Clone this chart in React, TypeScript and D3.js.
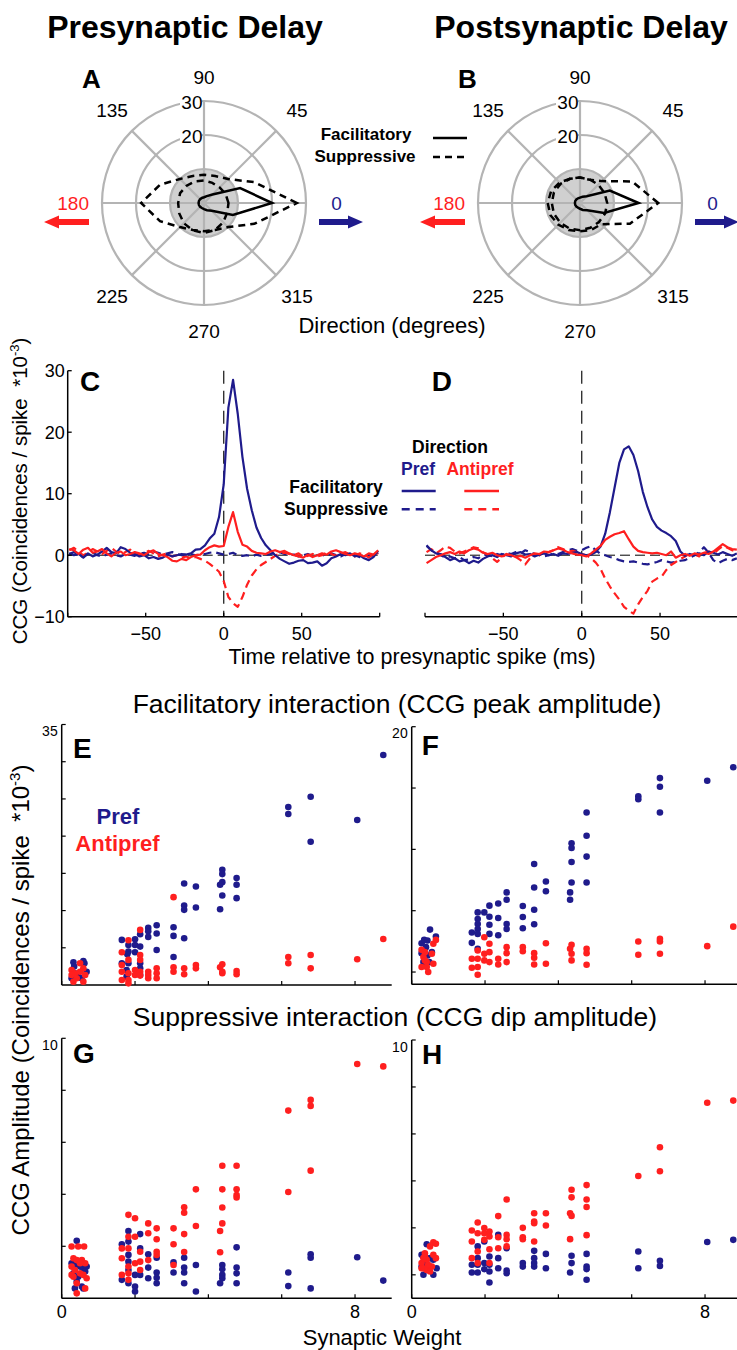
import React from "react";
import * as d3 from "d3";

const BLUE = "#1f1b8c";
const RED = "#ff1f1f";
const GRID = "#b4b4b4";
const FONT = "'Liberation Sans', Arial, Helvetica, sans-serif";

// ---------- Polar panels (A, B) ----------
const DIRS = [0, 22.5, 45, 67.5, 90, 112.5, 135, 157.5, 180, 202.5, 225, 247.5, 270, 292.5, 315, 337.5];
const RINGS = [10, 20, 30];
const SPOKES = [0, 45, 90, 135, 180, 225, 270, 315];
const ANGLE_LABELS = ["90", "45", "135", "225", "315", "270"];

const A_FAC = [20, 11.5, 3.5, 2.2, 1.7, 1.6, 1.6, 1.6, 1.6, 1.6, 1.6, 1.6, 1.8, 2.3, 3.2, 9.2];
const A_SUP_OUTER = [27.3, 16, 10, 8.6, 8.3, 8.6, 10, 14, 18.5, 14, 10, 8.6, 8.3, 8.6, 10, 16];
const A_SUP_INNER = [7.2, 6.9, 6.5, 6.4, 6.6, 6.9, 7.2, 7.6, 7.6, 7.9, 8.4, 8.7, 8.8, 8.6, 8.0, 7.4];

const B_FAC = [17.2, 9.5, 2.8, 2, 1.6, 1.5, 1.5, 1.5, 1.5, 1.5, 1.5, 1.5, 1.7, 2.2, 3.0, 7.7];
const B_SUP_OUTER = [23, 16.6, 9.1, 7.4, 7.5, 7.7, 8.5, 9.2, 9.5, 9.4, 9.0, 8.6, 8.3, 8.6, 8.8, 15.9];
const B_SUP_INNER = [8.0, 7.8, 7.6, 7.5, 7.5, 7.7, 8.0, 8.3, 8.3, 8.3, 8.2, 8.1, 8.0, 7.9, 7.9, 8.0];

// ---------- CCG panels (C, D) ----------
const T = [
  -99, -96, -93, -90, -87, -84, -81, -78, -75, -72,
  -69, -66, -63, -60, -57, -54, -51, -48, -45, -42,
  -39, -36, -33, -30, -27, -24, -21, -18, -15, -12,
  -9, -6, -3, 0, 3, 6, 9, 12, 15, 18,
  21, 24, 27, 30, 33, 36, 39, 42, 45, 48,
  51, 54, 57, 60, 63, 66, 69, 72, 75, 78,
  81, 84, 87, 90, 93, 96, 99,
];
const C_PREF_FAC = [
  0.3, 0, 0.2, -0.4, 0.3, -0.2, 0.1, 0.6, 1.2, 0.5,
  0.3, 1.3, 1.0, 0.4, 0.2, -0.2, 0, -0.5, -0.3, -0.6,
  -0.4, 0.1, -0.2, 0, 0.2, 0.1, 0.3, 0.9, 1.0, 1.6,
  2.7, 3.5, 6.2, 11.5, 24, 28.5, 23, 16, 10.8, 7.3,
  4.5, 2.8, 1.6, 0.8, 0, -0.6, -1.0, -1.4, -1.2, -0.9,
  -0.8, -1.3, -1.2, -1.0, -1.7, -1.3, -0.5, -0.2, 0.2, 0,
  0.3, -0.2, 0, -0.5, -0.8, -0.3, 0.7,
];
const C_ANTI_FAC = [
  1.0, 0.8, 0.2, 0.9, 1.2, 0.4, 0.6, 1.0, 0.3, -0.2,
  0.4, 0.6, 0, 0.2, 0.5, 0.3, 0, 0.5, 0.8, 0.2,
  0, -0.3, -0.9, -1.0, -0.6, -0.8, -0.3, 0, 0.1, 0.8,
  1.3, 1.6, 1.4, 1.5, 4.6, 7.0, 3.8, 1.7, 1.4, 0.7,
  0.4, 0.3, 0.2, 0.6, 0.8, 0.5, 0.7, 0.3, 0, -0.2,
  -0.4, 0.1, -0.3, 0, 0.3, 0.1, 0.6, 0.8, 0.5, 0.2,
  0.0, 0.3, 0.1, -0.2, 0.3, 0.1, 0.8,
];
const C_PREF_SUP = [
  0.2, 0.5, 0, -0.3, 0.2, 0.4, 0, -0.2, 0.1, 0.3,
  0, -0.2, 0.2, 0.1, -0.1, 0.2, 0.4, 0.1, 0.6, 0.4,
  0.1, 0.3, 0.5, 0.2, 0, 0.1, 0.2, 0, 0.1, 0.2,
  0.4, 0.5, 0.3, 0.1, 0.2, 0.4, 0, -0.1, 0, -0.2,
  0.1, -0.1, 0, 0.2, 0.3, 0.5, 0.2, 0, 0.1, -0.2,
  0, 0.2, -0.1, 0, 0.1, -0.2, 0.3, 0, -0.2, 0.2,
  0.3, 0, -0.3, -0.2, 0, -0.1, 0.4,
];
const C_ANTI_SUP = [
  0.8, 1.2, 0.5, 0, 0.4, 1.0, 0.6, 0.2, 0.7, 1.2,
  0.6, 0.2, 0.5, 0.9, 0.3, 0, 0.4, 0.7, 0.3, -0.2,
  0.1, 0.3, -0.2, 0, -0.4, -0.2, -0.5, -0.3, -0.6, -0.9,
  -1.4, -2.0, -2.7, -4.2, -6.8, -7.8, -8.4, -6.8, -4.8, -3.3,
  -2.3, -1.6, -1.1, -0.6, -0.1, 0.3, 0.4, 0.2, 0, 0.3,
  -0.3, -0.1, 0.2, -0.2, 0, 0.4, 0.2, -0.1, 0.3, 0.5,
  0.1, -0.2, 0.3, 0.1, -0.4, 0.2, 0.3,
];
const D_PREF_FAC = [
  1.5, 0.8, 0.3, 0.2, -0.3, -0.8, -0.5, -1.0, -0.8, -1.3,
  -0.9, -1.2, -0.6, -0.2, 0, -0.3, 0.2, 0, -0.2, 0.3,
  0.5, 0.1, 0.2, -0.2, 0.1, 0.3, 0, 0.2, -0.1, 0.3,
  0.2, 0.4, 0.5, 0.2, 0, 0.1, 0.5, 1.4, 3.5, 7,
  11, 15, 17.2, 17.7, 16.3, 13.7, 10.3, 7.8, 5.8, 4.6,
  4.0, 3.6, 3.1, 2.3, 0.6, -0.1, 0.2, 0, 0.3, 0,
  0.6, 0.4, 0.1, 0.5, 0.2, -0.1, 0.3,
];
const D_ANTI_FAC = [
  -1.3, -0.8, -0.3, 0, 0.3, 0.5, 0.2, 0.6, 0.3, 0.8,
  1.1, 0.9, 0.4, 0.2, 0.4, 0, -0.2, 0.1, 0, -0.3,
  -0.1, -0.4, 0, 0.3, 0.2, 0.6, 0.5, 0.8, 1.1, 0.9,
  0.5, 0.3, 0.1, 0, -0.2, 0.3, 0.9, 1.5, 2.5, 3.0,
  3.4, 3.6, 3.9, 2.6, 1.4, 0.7, 0.5, 0.4, 0.3, 0.4,
  0.2, 0, 0.6, -0.4, 0, 0.2, -0.1, 0.3, 0.1, 0.4,
  0.2, 0.6, 1.2, 1.8, 1.3, 1.0, 0.9,
];
const D_PREF_SUP = [
  1.6, 0.8, 0.4, 0, -0.4, -0.2, -0.5, -0.3, -0.8, -0.7,
  -0.3, -0.5, 0, 0.1, -0.2, 0.2, 0, 0.4, 0.2, 0.5,
  0.3, 0.8, 0.5, 0.2, 0, -0.2, 0, 0.3, 0.2, 0.5,
  0.8, 1.0, 0.7, 0.8, 1.2, 1.5, 0.8, 0.2, 0, -0.3,
  -0.5, -0.8, -1.0, -1.1, -1.0, -1.2, -1.4, -1.5, -1.3, -1.1,
  -0.8, -1.0, -1.2, -1.1, -0.9, -0.8, -0.4, 0, 0.5, 1.3,
  0.4, -0.8, -1.3, -0.9, -0.6, -0.8, -0.5,
];
const D_ANTI_SUP = [
  0.5, 1.0, 0.3, 0.8, 1.4, 1.2, 0.6, 0.3, 0.6, 0.9,
  1.3, 1.1, 0.5, 0.1, -0.5, -1.1, -0.4, 0.2, 0, -0.3,
  -0.8, -1.5, -0.5, 0.2, 0, 0.3, 0.5, 0.8, 1.3, 1.0,
  0.6, 0.7, 0.5, 0.2, 0, -0.5, -1.2, -2.2, -3.8, -5.1,
  -6.2, -7.2, -8.4, -9.0, -9.5, -8.0, -6.8, -5.8, -4.3, -3.8,
  -3.5, -2.4, -1.6, -1.1, -0.6, -0.2, 0.3, 0.1, -0.2, 0.4,
  0.6, 0.2, 0.9, 1.5, 1.2, 0.8, 0.6,
];
const CCG_YTICKS = [-10, 0, 10, 20, 30];
const CCG_XTICKS = [-100, -50, 0, 50, 100];
const CCG_XLABELS = [-50, 0, 50];

// ---------- Scatter panels (E-H): [synaptic weight, amplitude] ----------
const E_PREF = [
  [0.32, 3.05], [0.34, 2.47], [0.59, 3.23], [0.62, 2.92], [0.68, 1.79], [0.36, 1.57], [0.54, 0.9], [0.27, 0.9], [0.45, 1.35],
  [1.64, 6.06], [1.82, 5.38], [1.82, 4.49], [1.79, 4.13], [2.0, 6.15], [2.0, 5.38], [2.0, 4.4], [2.14, 6.82], [2.14, 5.16], [1.64, 2.92], [1.82, 2.92], [2.14, 2.92], [2.14, 1.35], [1.77, 1.12], [2.36, 7.67], [2.36, 7.22], [2.36, 6.46], [2.59, 8.03], [2.59, 6.91], [2.59, 4.71], [2.14, 2.24], [1.77, 2.02],
  [3.05, 7.76], [3.05, 6.6], [3.05, 3.77], [3.34, 13.64], [3.34, 10.68], [3.34, 10.1], [3.34, 6.28], [3.66, 13.23], [3.66, 10.41],
  [4.38, 15.48], [4.38, 14.9], [4.38, 13.82], [4.32, 13.46], [4.38, 12.03], [4.32, 10.18], [4.77, 14.36], [4.77, 13.46], [4.77, 11.67],
  [6.18, 23.91], [6.18, 22.97], [6.79, 25.3], [6.79, 19.25],
  [8.06, 22.16], [8.77, 30.91],
];
const E_ANTI = [
  [0.27, 2.02], [0.36, 1.57], [0.5, 2.92], [0.59, 2.24], [0.64, 1.35], [0.41, 0.9], [0.32, 0.45], [0.59, 0.45], [0.5, 1.79], [0.27, 1.35],
  [1.64, 4.4], [1.64, 2.69], [1.64, 1.79], [1.64, 0.67], [1.82, 6.01], [1.82, 3.37], [1.82, 1.57], [1.82, 0.67], [1.82, 0.22], [2.0, 2.02], [2.0, 1.35], [2.14, 7.4], [2.14, 4.04], [2.14, 3.37], [2.14, 1.79], [2.14, 1.26], [2.36, 1.79], [2.36, 0.9], [2.59, 2.24], [2.59, 1.57], [2.59, 0.9], [2.36, 1.35],
  [3.05, 11.8], [3.05, 2.38], [3.05, 1.79], [3.34, 2.24], [3.34, 1.44], [3.66, 2.69], [3.66, 2.24],
  [4.32, 2.38], [4.38, 2.78], [4.38, 1.79], [4.38, 1.57], [4.77, 1.88], [4.77, 1.44],
  [6.18, 3.77], [6.18, 2.92], [6.79, 4.04], [6.79, 2.24],
  [8.06, 3.46], [8.77, 6.19],
];
const F_PREF = [
  [0.27, 2.35], [0.34, 2.62], [0.43, 2.57], [0.5, 3.46], [0.66, 2.89], [0.27, 1.54], [0.39, 2.03], [0.43, 1.35], [0.48, 0.81], [0.32, 0.81], [0.55, 1.62],
  [1.64, 3.22], [1.64, 2.38], [1.8, 4.86], [1.8, 4.32], [1.8, 3.92], [1.8, 3.51], [1.8, 3.11], [1.8, 1.89], [1.98, 4.86], [2.12, 5.41], [2.12, 4.51], [2.12, 3.86], [2.12, 3.11], [2.36, 5.59], [2.36, 4.41], [2.36, 3.0], [2.59, 6.49], [2.59, 5.89], [2.59, 3.92], [2.59, 3.51],
  [3.03, 5.38], [3.03, 4.49], [3.03, 3.57], [3.34, 8.81], [3.34, 6.89], [3.34, 5.08], [3.34, 3.89], [3.66, 7.38], [3.66, 6.59],
  [4.36, 10.49], [4.36, 10.11], [4.36, 8.97], [4.36, 7.3], [4.32, 6.49], [4.32, 5.89], [4.77, 13.0], [4.77, 11.11], [4.77, 9.41], [4.77, 7.3],
  [6.18, 14.32], [6.18, 14.08], [6.77, 15.81], [6.77, 15.11], [6.77, 13.0],
  [8.06, 15.59], [8.77, 16.7],
];
const F_ANTI = [
  [0.27, 1.81], [0.32, 1.22], [0.36, 1.62], [0.41, 0.41], [0.45, 0], [0.59, 2.3], [0.66, 2.62], [0.55, 1.49], [0.59, 0.68], [0.27, 0.41], [0.41, 0.81], [0.36, 0.95],
  [1.64, 1.08], [1.64, 0.35], [1.8, 1.76], [1.8, 1.08], [1.8, 0.41], [1.8, -0.22], [1.98, 2.84], [1.98, 1.49], [1.98, 0.95], [2.12, 1.62], [2.12, 0.81], [2.36, 1.08], [2.36, 0.62], [2.59, 2.03], [2.59, 1.54], [2.59, 0.81], [2.12, 2.3],
  [3.03, 2.03], [3.03, 1.7], [3.34, 1.54], [3.34, 1.16], [3.34, 0.62], [3.66, 2.35], [3.66, 0.68],
  [4.36, 2.22], [4.32, 1.89], [4.36, 1.49], [4.36, 0.95], [4.77, 1.89], [4.77, 1.54], [4.77, 0.59],
  [6.18, 2.49], [6.18, 1.41], [6.77, 2.7], [6.77, 2.49], [6.77, 1.49],
  [8.06, 2.11], [8.77, 3.7],
];
const G_PREF = [
  [0.41, 2.21], [0.27, 1.35], [0.36, 1.28], [0.5, 1.22], [0.59, 1.15], [0.68, 1.22], [0.64, 1.03], [0.32, 0.96], [0.41, 0.64], [0.55, 0.45], [0.59, 0.38], [0.36, 0.38], [0.45, 0.83],
  [1.64, 2.08], [1.64, 0.71], [1.82, 2.59], [1.82, 2.18], [1.82, 1.67], [1.82, 1.41], [1.82, 1.09], [1.82, 0.58], [2.0, 0.9], [2.0, 0.45], [2.0, 0.26], [2.14, 2.47], [2.14, 1.92], [2.14, 0.9], [2.36, 1.69], [2.36, 1.18], [2.36, 0.77], [2.59, 1.56], [2.59, 0.99], [2.59, 0.79], [2.59, 0.58],
  [3.05, 1.38], [3.05, 0.99], [3.34, 1.56], [3.34, 1.18], [3.34, 0.99], [3.34, 0.58], [3.66, 1.28], [3.66, 0.26],
  [4.38, 1.28], [4.38, 1.12], [4.38, 0.9], [4.38, 0.77], [4.32, 0.58], [4.77, 1.96], [4.77, 1.18], [4.77, 0.96], [4.77, 0.58],
  [6.18, 0.99], [6.18, 0.47], [6.79, 1.69], [6.79, 1.56], [6.79, 0.38],
  [8.06, 1.58], [8.77, 0.68],
];
const G_ANTI = [
  [0.27, 1.99], [0.45, 1.99], [0.61, 1.99], [0.32, 1.54], [0.41, 1.47], [0.55, 1.47], [0.64, 1.35], [0.27, 1.22], [0.36, 1.09], [0.5, 0.96], [0.59, 0.9], [0.32, 0.83], [0.68, 0.77], [0.41, 0.58], [0.64, 0.38], [0.41, 0.19], [0.27, 0.9], [0.5, 1.35],
  [1.64, 1.92], [1.64, 1.54], [1.64, 0.9], [1.82, 3.21], [1.82, 2.37], [1.82, 1.92], [1.82, 1.22], [1.82, 0.96], [1.82, 0.71], [2.0, 3.08], [2.0, 2.37], [2.0, 1.35], [2.14, 1.79], [2.14, 1.41], [2.14, 1.09], [2.36, 2.88], [2.36, 2.5], [2.36, 1.47], [2.59, 2.69], [2.59, 2.27], [2.59, 1.79], [2.59, 1.67],
  [3.05, 2.69], [3.05, 2.08], [3.05, 1.28], [3.34, 3.5], [3.34, 3.29], [3.34, 2.47], [3.34, 1.78], [3.66, 4.19], [3.66, 2.78],
  [4.38, 5.1], [4.38, 4.19], [4.38, 3.49], [4.38, 2.88], [4.32, 2.59], [4.32, 1.77], [4.77, 5.1], [4.77, 4.19], [4.77, 3.97], [4.77, 3.88],
  [6.18, 7.22], [6.18, 4.09], [6.79, 7.63], [6.79, 7.4], [6.79, 4.91],
  [8.06, 9.01], [8.77, 8.92],
];
const H_PREF = [
  [0.41, 1.3], [0.27, 0.85], [0.32, 0.78], [0.5, 0.71], [0.36, 0.5], [0.59, 0.64], [0.68, 0.28], [0.32, 0], [0.59, 0], [0.41, 0.21], [0.5, 0.35], [0.27, 0.35],
  [1.64, 0.43], [1.64, 0.1], [1.8, 1.21], [1.8, 0.71], [1.8, 0.43], [1.8, 0.1], [1.98, 1.42], [1.98, 0.5], [1.98, 0.24], [2.12, 0.78], [2.12, 0.43], [2.12, -0.33], [2.12, 0.14], [2.36, 1.7], [2.36, 0.71], [2.36, 0.28], [2.59, 1.13], [2.59, 0.18], [2.59, 0.07],
  [3.03, 0.5], [3.03, 0.35], [3.34, 1.02], [3.34, 0.71], [3.34, 0.5], [3.34, 0.35], [3.66, 0.89], [3.66, 0.28],
  [4.36, 0.81], [4.36, 0.5], [4.32, 0.1], [4.77, 0.89], [4.77, 0.35], [4.77, 0.24], [4.77, -0.21],
  [6.18, 0.99], [6.18, 0.28], [6.77, 0.6], [6.77, 0.38],
  [8.06, 1.4], [8.77, 1.49],
];
const H_ANTI = [
  [0.36, 0.78], [0.41, 0.64], [0.5, 1.21], [0.59, 1.38], [0.66, 1.32], [0.27, 0.5], [0.32, 0.28], [0.41, 0.21], [0.55, 0.35], [0.59, 0.85], [0.66, 0.71], [0.32, 0.71], [0.45, 0.43], [0.27, 0.28], [0.36, 0.92], [0.5, 0.14],
  [1.64, 1.89], [1.64, 1.42], [1.64, 0.71], [1.8, 2.23], [1.8, 1.77], [1.8, 0.99], [1.8, 0.5], [1.98, 1.99], [1.98, 1.77], [1.98, 1.49], [2.12, 1.84], [2.12, 1.63], [2.12, 1.09], [2.12, 0.5], [2.36, 2.5], [2.36, 1.6], [2.36, 1.13], [2.59, 3.21], [2.59, 1.7], [2.59, 1.52], [2.59, 1.21],
  [3.03, 2.0], [3.03, 1.6], [3.03, 1.52], [3.34, 2.62], [3.34, 2.27], [3.34, 2.2], [3.34, 1.42], [3.66, 2.62], [3.66, 2.1],
  [4.36, 3.62], [4.36, 3.3], [4.32, 2.62], [4.36, 2.51], [4.32, 1.52], [4.77, 3.82], [4.77, 3.21], [4.77, 2.89], [4.77, 1.69],
  [6.18, 4.21], [6.77, 5.43], [6.77, 4.41],
  [8.06, 7.33], [8.77, 7.42],
];
const SC_XTICKS = [0, 2, 4, 6, 8];
const SC_XLABELS = [0, 8];

// ---------- helpers ----------
function Arrow({ x0, x1, y, color, dir }: any) {
  const head = 15, hh = 6.5, sh = 3;
  const p = d3.path();
  if (dir > 0) {
    p.moveTo(x0, y - sh); p.lineTo(x1 - head, y - sh); p.lineTo(x1 - head, y - hh);
    p.lineTo(x1, y); p.lineTo(x1 - head, y + hh); p.lineTo(x1 - head, y + sh); p.lineTo(x0, y + sh);
  } else {
    p.moveTo(x1, y - sh); p.lineTo(x0 + head, y - sh); p.lineTo(x0 + head, y - hh);
    p.lineTo(x0, y); p.lineTo(x0 + head, y + hh); p.lineTo(x0 + head, y + sh); p.lineTo(x1, y + sh);
  }
  p.closePath();
  return <path d={p.toString()} fill={color} />;
}

function Polar({ cx, cy, fac, supOuter, supInner, letter }: any) {
  const r = d3.scaleLinear().domain([0, 30]).range([0, 102]);
  const radial = d3.lineRadial<number>()
    .angle((_, i) => Math.PI / 2 - (DIRS[i] * Math.PI) / 180)
    .radius((v) => r(v))
    .curve(d3.curveLinearClosed);
  const lblPos: any = {
    "90": [0, -119.5], "45": [93, -86.5], "135": [-92, -86.5],
    "225": [-92, 99.5], "315": [93, 99.5], "270": [0, 134.5],
  };
  return (
    <g>
      <circle cx={cx} cy={cy} r={r(10)} fill="#d0d0d0" />
      {SPOKES.map((a) => (
        <line key={a} x1={cx} y1={cy}
          x2={cx + r(30) * Math.cos((a * Math.PI) / 180)}
          y2={cy - r(30) * Math.sin((a * Math.PI) / 180)}
          stroke={GRID} strokeWidth={2.2} />
      ))}
      {RINGS.map((v) => (
        <circle key={v} cx={cx} cy={cy} r={r(v)} fill="none" stroke={GRID} strokeWidth={2.2} />
      ))}
      <g transform={`translate(${cx},${cy})`} fill="none" stroke="#000" strokeWidth={2.5} strokeLinejoin="miter">
        <path d={radial(supOuter) as string} strokeDasharray="7 5" />
        <path d={radial(supInner) as string} strokeDasharray="7 5" />
        <path d={radial(fac) as string} />
      </g>
      {[30, 20].map((v) => (
        <g key={v}>
          <rect x={cx - 24} y={cy - r(v) - 6} width={22} height={13} fill="#fff" />
          <text x={cx - 1.5} y={cy - r(v) + 7.5} textAnchor="end" fontSize={19}>{v}</text>
        </g>
      ))}
      {ANGLE_LABELS.map((l) => (
        <text key={l} x={cx + lblPos[l][0]} y={cy + lblPos[l][1]} textAnchor="middle" fontSize={19}>{l}</text>
      ))}
      <text x={cx - 115} y={cy + 7} textAnchor="end" fontSize={19} fill={RED}>180</text>
      <text x={cx + 132.5} y={cy + 7} textAnchor="middle" fontSize={19} fill={BLUE}>0</text>
      <Arrow x0={cx - 160} x1={cx - 115} y={cy + 19} color={RED} dir={-1} />
      <Arrow x0={cx + 115} x1={cx + 159} y={cy + 19} color={BLUE} dir={1} />
      <text x={cx - 122} y={cy - 115} fontSize={26} fontWeight="bold">{letter}</text>
    </g>
  );
}

function CCG({ xr, showY, series, letter, lx }: any) {
  const x = d3.scaleLinear().domain([-100, 100]).range(xr);
  const y = d3.scaleLinear().domain([-10, 30]).range([616.7, 370.7]);
  const line = d3.line<number>().x((_, i) => x(T[i])).y((v) => y(v));
  return (
    <g>
      <line x1={x(-100)} x2={x(100)} y1={y(0)} y2={y(0)} stroke="#000" strokeWidth={1} strokeDasharray="10 5" />
      <line x1={x(0)} x2={x(0)} y1={y(30)} y2={y(-10)} stroke="#333" strokeWidth={1.4} strokeDasharray="13 7" />
      {series.map((s: any, i: number) => (
        <path key={i} d={line(s.v) as string} fill="none" stroke={s.c} strokeWidth={2.2}
          strokeDasharray={s.dash ? "8 5" : undefined} strokeLinejoin="round" />
      ))}
      <line x1={x(-100)} x2={x(100)} y1={y(-10)} y2={y(-10)} stroke="#000" strokeWidth={1.5} />
      {CCG_XTICKS.map((t) => (
        <line key={t} x1={x(t)} x2={x(t)} y1={y(-10)} y2={y(-10) - 4} stroke="#000" strokeWidth={1.3} />
      ))}
      {CCG_XLABELS.map((t) => (
        <text key={t} x={x(t)} y={640} textAnchor="middle" fontSize={18}>{t < 0 ? `\u2212${-t}` : t}</text>
      ))}
      {showY && (
        <g>
          <line x1={x(-100)} x2={x(-100)} y1={y(-10)} y2={y(30)} stroke="#000" strokeWidth={1.5} />
          {CCG_YTICKS.map((t) => (
            <g key={t}>
              <line x1={x(-100)} x2={x(-100) + 4} y1={y(t)} y2={y(t)} stroke="#000" strokeWidth={1.3} />
              <text x={x(-100) - 3} y={y(t) + 6.5} textAnchor="end" fontSize={18}>{t < 0 ? `\u2212${-t}` : t}</text>
            </g>
          ))}
        </g>
      )}
      <text x={lx} y={391} fontSize={28} fontWeight="bold">{letter}</text>
    </g>
  );
}

function Scatter({ xr, yd, yr, yTicks, pref, anti, letter, lpos, topLabel, xLabels }: any) {
  const x = d3.scaleLinear().domain([0, 9]).range(xr);
  const y = d3.scaleLinear().domain(yd).range(yr);
  const x0 = x(0), yb = y(yd[0]);
  return (
    <g>
      <line x1={x0} x2={x(9)} y1={yb} y2={yb} stroke="#000" strokeWidth={1.5} />
      <line x1={x0} x2={x0} y1={yb} y2={y(yd[1])} stroke="#000" strokeWidth={1.5} />
      {SC_XTICKS.map((t) => (
        <line key={t} x1={x(t)} x2={x(t)} y1={yb} y2={yb - 4} stroke="#000" strokeWidth={1.2} />
      ))}
      {yTicks.map((t: number) => (
        <line key={t} x1={x0} x2={x0 + 4} y1={y(t)} y2={y(t)} stroke="#000" strokeWidth={1.2} />
      ))}
      <text x={x0 - 4} y={y(yd[1]) + 11.5} textAnchor="end" fontSize={14}>{topLabel}</text>
      {xLabels && SC_XLABELS.map((t) => (
        <text key={t} x={x(t)} y={1318} textAnchor="middle" fontSize={18}>{t}</text>
      ))}
      {pref.map((d: number[], i: number) => (
        <circle key={"p" + i} cx={x(d[0])} cy={y(d[1])} r={3.3} fill={BLUE} />
      ))}
      {anti.map((d: number[], i: number) => (
        <circle key={"a" + i} cx={x(d[0])} cy={y(d[1])} r={3.3} fill={RED} />
      ))}
      <text x={lpos[0]} y={lpos[1]} fontSize={28} fontWeight="bold">{letter}</text>
    </g>
  );
}

export default function App() {
  const cSeries = [
    { v: C_PREF_SUP, c: BLUE, dash: true },
    { v: C_ANTI_SUP, c: RED, dash: true },
    { v: C_PREF_FAC, c: BLUE, dash: false },
    { v: C_ANTI_FAC, c: RED, dash: false },
  ];
  const dSeries = [
    { v: D_PREF_SUP, c: BLUE, dash: true },
    { v: D_ANTI_SUP, c: RED, dash: true },
    { v: D_PREF_FAC, c: BLUE, dash: false },
    { v: D_ANTI_FAC, c: RED, dash: false },
  ];
  return (
    <svg width={737} height={1350} style={{ position: "absolute", left: 0, top: 0 }} fontFamily={FONT}>
      <rect width={737} height={1350} fill="#fff" />
      <text x={185} y={38} textAnchor="middle" fontSize={32} fontWeight="bold">Presynaptic Delay</text>
      <text x={581} y={38} textAnchor="middle" fontSize={32} fontWeight="bold">Postsynaptic Delay</text>

      <Polar cx={204} cy={203} fac={A_FAC} supOuter={A_SUP_OUTER} supInner={A_SUP_INNER} letter="A" />
      <Polar cx={580} cy={203} fac={B_FAC} supOuter={B_SUP_OUTER} supInner={B_SUP_INNER} letter="B" />

      <text x={366} y={140} textAnchor="middle" fontSize={17} fontWeight="bold">Facilitatory</text>
      <text x={365} y={162} textAnchor="middle" fontSize={17} fontWeight="bold">Suppressive</text>
      <line x1={433} x2={467} y1={138} y2={138} stroke="#000" strokeWidth={2.5} />
      <line x1={433} x2={467} y1={157} y2={157} stroke="#000" strokeWidth={2.5} strokeDasharray="7 5" />
      <text x={392} y={333} textAnchor="middle" fontSize={22}>Direction (degrees)</text>

      <CCG xr={[67.7, 379.7]} showY={true} series={cSeries} letter="C" lx={80} />
      <CCG xr={[425, 738.4]} showY={false} series={dSeries} letter="D" lx={431.7} />

      <text x={450} y={452.7} textAnchor="middle" fontSize={17.5} fontWeight="bold">Direction</text>
      <text x={418} y={475} textAnchor="middle" fontSize={17.5} fontWeight="bold" fill={BLUE}>Pref</text>
      <text x={480} y={475} textAnchor="middle" fontSize={17.5} fontWeight="bold" fill={RED}>Antipref</text>
      <text x={336} y={493} textAnchor="middle" fontSize={17.5} fontWeight="bold">Facilitatory</text>
      <text x={336} y={515} textAnchor="middle" fontSize={17.5} fontWeight="bold">Suppressive</text>
      <line x1={401.7} x2={435.7} y1={491} y2={491} stroke={BLUE} strokeWidth={2.4} />
      <line x1={464.3} x2={499} y1={491} y2={491} stroke={RED} strokeWidth={2.4} />
      <line x1={401.7} x2={435.7} y1={509.3} y2={509.3} stroke={BLUE} strokeWidth={2.4} strokeDasharray="8 6" />
      <line x1={464.3} x2={499} y1={509.3} y2={509.3} stroke={RED} strokeWidth={2.4} strokeDasharray="8 6" />

      <text transform="translate(27,491) rotate(-90)" textAnchor="middle" fontSize={20.5} style={{ whiteSpace: "pre" }}>
        CCG (Coincidences / spike  *10<tspan dy={-8} fontSize={13}>-3</tspan><tspan dy={8}>)</tspan>
      </text>
      <text x={412} y={664} textAnchor="middle" fontSize={21.5}>Time relative to presynaptic spike (ms)</text>

      <text x={397} y={713} textAnchor="middle" fontSize={26.5}>Facilitatory interaction (CCG peak amplitude)</text>
      <text x={395} y={1026} textAnchor="middle" fontSize={26.5}>Suppressive interaction (CCG dip amplitude)</text>

      <Scatter xr={[61.7, 391.7]} yd={[0, 35]} yr={[985, 724.5]} yTicks={[5, 10, 15, 20, 25, 30, 35]}
        pref={E_PREF} anti={E_ANTI} letter="E" lpos={[73, 757.7]} topLabel="35" xLabels={false} />
      <Scatter xr={[411.7, 741.7]} yd={[-1, 20]} yr={[984.3, 726.7]} yTicks={[0, 5, 10, 15, 20]}
        pref={F_PREF} anti={F_ANTI} letter="F" lpos={[421.7, 755]} topLabel="20" xLabels={false} />
      <Scatter xr={[61.7, 391.7]} yd={[0, 10]} yr={[1298.3, 1038.3]} yTicks={[2, 4, 6, 8, 10]}
        pref={G_PREF} anti={G_ANTI} letter="G" lpos={[73, 1063]} topLabel="10" xLabels={true} />
      <Scatter xr={[411.7, 741.7]} yd={[-1, 10]} yr={[1298.3, 1040]} yTicks={[0, 2, 4, 6, 8, 10]}
        pref={H_PREF} anti={H_ANTI} letter="H" lpos={[422, 1064]} topLabel="10" xLabels={true} />

      <text x={118} y={824} textAnchor="middle" fontSize={22} fontWeight="bold" fill={BLUE}>Pref</text>
      <text x={117.5} y={851} textAnchor="middle" fontSize={22} fontWeight="bold" fill={RED}>Antipref</text>

      <text transform="translate(29,1000) rotate(-90)" textAnchor="middle" fontSize={24} style={{ whiteSpace: "pre" }}>
        CCG Amplitude (Coincidences / spike  *10<tspan dy={-9} fontSize={15}>-3</tspan><tspan dy={9}>)</tspan>
      </text>
      <text x={382} y={1345} textAnchor="middle" fontSize={22}>Synaptic Weight</text>
    </svg>
  );
}
